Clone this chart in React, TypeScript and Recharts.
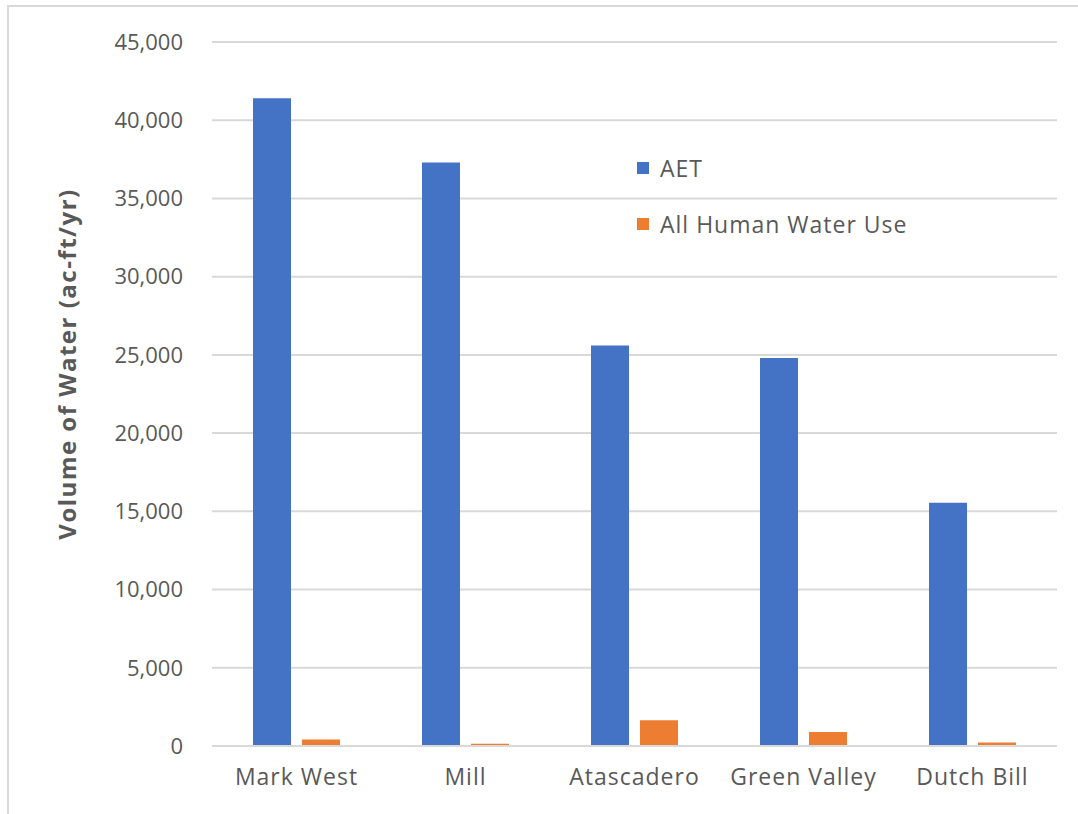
import React from 'react';
import { BarChart, Bar, XAxis, YAxis, CartesianGrid, Legend, Label } from 'recharts';

// Watersheds and annual water volumes (ac-ft/yr)
const watersheds = ['Mark West', 'Mill', 'Atascadero', 'Green Valley', 'Dutch Bill'];
const aet = [41400, 37300, 25600, 24800, 15550];
const humanUse = [420, 150, 1650, 900, 220];
const yTicks = [0, 5000, 10000, 15000, 20000, 25000, 30000, 35000, 40000, 45000];

const seriesInfo = [
  { key: 'aet', name: 'AET', color: '#4472C4' },
  { key: 'human', name: 'All Human Water Use', color: '#ED7D31' },
];

const data = watersheds.map((name, i) => ({ name, aet: aet[i], human: humanUse[i] }));

const FONT = '"Open Sans", "Segoe UI", sans-serif';
const TEXT = '#595959';
const GRID = '#d9d9d9';

const fmt = (v: number) => v.toLocaleString('en-US');

const LegendBox = () => (
  <div style={{ fontFamily: FONT, fontSize: 23, color: TEXT, letterSpacing: 1 }}>
    {seriesInfo.map((s) => (
      <div key={s.key} style={{ display: 'flex', alignItems: 'center', height: 56 }}>
        <span style={{ width: 12, height: 12, background: s.color, display: 'inline-block', marginRight: 11 }} />
        <span>{s.name}</span>
      </div>
    ))}
  </div>
);

// Rotated axis title, centred a little above the plot's midpoint
const AxisTitle = (props: any) => {
  const vb = props.viewBox || { x: 0, y: 0, width: 0, height: 0 };
  const cx = vb.x + 66;
  const cy = vb.y + vb.height / 2 - 30;
  return (
    <text
      x={cx}
      y={cy}
      transform={`rotate(-90, ${cx}, ${cy})`}
      textAnchor="middle"
      dominantBaseline="central"
      fill={TEXT}
      fontSize={24}
      fontWeight={700}
      fontFamily={FONT}
      letterSpacing={1.5}
    >
      Volume of Water (ac-ft/yr)
    </text>
  );
};

export default function App() {
  return (
    <div style={{ position: 'absolute', left: 0, top: 0, width: 1078, height: 814, background: '#fff' }}>
      <div
        style={{
          position: 'absolute',
          left: 7,
          top: 5,
          width: 1078,
          height: 814,
          borderLeft: `2px solid ${GRID}`,
          borderTop: `2px solid ${GRID}`,
          boxSizing: 'border-box',
        }}
      />
      <div style={{ position: 'absolute', left: 0, top: 0 }}>
        <BarChart
          width={1078}
          height={814}
          data={data}
          margin={{ top: 42, right: 21, bottom: 38, left: 0 }}
          barSize={38}
          barGap={11}
        >
          <CartesianGrid vertical={false} stroke={GRID} strokeWidth={2} />
          <XAxis
            dataKey="name"
            height={30}
            tickLine={false}
            axisLine={{ stroke: GRID, strokeWidth: 2 }}
            tickMargin={17}
            tick={{ fill: TEXT, fontSize: 23, fontFamily: FONT, letterSpacing: 1 }}
            interval={0}
          />
          <YAxis
            width={212}
            domain={[0, 45000]}
            ticks={yTicks}
            tickFormatter={fmt}
            tickLine={false}
            axisLine={false}
            tickSize={0}
            tickMargin={29}
            tick={{ fill: TEXT, fontSize: 22, fontFamily: FONT }}
          >
            <Label content={AxisTitle} />
          </YAxis>
          <Legend
            layout="vertical"
            align="center"
            verticalAlign="middle"
            content={() => <LegendBox />}
            wrapperStyle={{ position: 'absolute', left: 637, top: 140, width: 340 }}
          />
          {seriesInfo.map((s) => (
            <Bar key={s.key} dataKey={s.key} name={s.name} fill={s.color} isAnimationActive={false} />
          ))}
        </BarChart>
      </div>
    </div>
  );
}
